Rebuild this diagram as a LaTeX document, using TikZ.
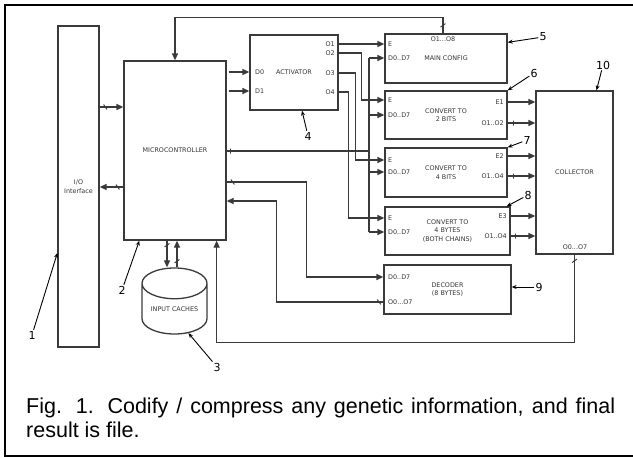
\documentclass[tikz,border=0pt]{standalone}
\usepackage{fontspec}
\setmainfont{DejaVu Sans}
\newfontfamily\capfont{Liberation Sans}
\usepackage{tikz}
\usetikzlibrary{arrows.meta, positioning, shapes.geometric, calc}
\definecolor{diagGray}{HTML}{3A3A3A}
\definecolor{diagText}{HTML}{333333}

\begin{document}
\begin{tikzpicture}[
    x=1pt, y=-1pt,
    box/.style={rectangle, draw=diagGray, line width=1.3pt, inner sep=0pt,
                font=\fontsize{6.4}{8.4}\selectfont\color{diagText}, align=center},
    port/.style={inner sep=0pt, font=\fontsize{6.4}{8.4}\selectfont\color{diagText}},
    num/.style={inner sep=1pt, font=\fontsize{11}{12}\selectfont},
    wire/.style={line width=1.3pt, diagGray},
    arr/.style={-{Triangle[length=7pt, width=6pt]}, line width=1.3pt, diagGray},
    ptr/.style={-{Stealth[length=5pt, width=4pt]}, line width=0.9pt},
    hbrk/.style={draw=diagGray, line width=1pt, inner sep=0pt,
                 minimum width=0pt, minimum height=6pt, rotate=35},
    vbrk/.style={draw=diagGray, line width=1pt, inner sep=0pt,
                 minimum width=6pt, minimum height=0pt, rotate=35},
    tick/.style={draw=diagGray, line width=1pt, inner sep=0pt,
                 minimum width=0pt, minimum height=5pt},
  ]
    \useasboundingbox (0,0) rectangle (633,458);
    \draw[line width=2.6pt] (5,5) rectangle (645,456);

    \node[box, minimum width=41pt, minimum height=321pt] (io) at (78.5,186.5) {I/O\\Interface};
    \node[box, minimum width=102pt, minimum height=179pt] (mcu) at (175,150.5) {MICROCONTROLLER};
    \node[box, minimum width=88pt, minimum height=75pt] (act) at (294,72.5) {ACTIVATOR};
    \node[box, minimum width=122pt, minimum height=49pt] (cfg) at (446,58.5) {MAIN CONFIG};
    \node[box, minimum width=122pt, minimum height=48pt] (cv2) at (446,115) {CONVERT TO\\2 BITS};
    \node[box, minimum width=122pt, minimum height=49pt] (cv4) at (446,172.5) {CONVERT TO\\4 BITS};
    \node[box, minimum width=125pt, minimum height=48pt] (cvb) at (447.5,231) {CONVERT TO\\4 BYTES\\(BOTH CHAINS)};
    \node[box, minimum width=127pt, minimum height=49pt] (dec) at (447.5,289.5) {DECODER\\(8 BYTES)};
    \node[box, minimum width=77pt, minimum height=163pt] (col) at (574.5,172.5) {COLLECTOR};
    \node[box, cylinder, shape border rotate=90, aspect=0.65,
          minimum width=65pt, minimum height=66pt] (cache) at (174.5,309) {INPUT CACHES};

    \node[port, anchor=west] (actD0) at (255,72) {D0};
    \node[port, anchor=west] (actD1) at (255,91) {D1};
    \node[port, anchor=east] (actO1) at (335,44) {O1};
    \node[port, anchor=east] (actO2) at (335,53) {O2};
    \node[port, anchor=east] (actO3) at (335,73) {O3};
    \node[port, anchor=east] (actO4) at (335,92) {O4};

    \node[port, anchor=west] (cfgE) at (388,44) {E};
    \node[port, anchor=west] (cfgD) at (388,58) {D0..D7};
    \node[port] (cfgO) at (443,39) {O1...O8};

    \node[port, anchor=west] (twoE) at (388,100) {E};
    \node[port, anchor=west] (twoD) at (388,115) {D0..D7};
    \node[port, anchor=east] (twoE1) at (504,102) {E1};
    \node[port, anchor=east] (twoO) at (504,123) {O1..O2};

    \node[port, anchor=west] (fourE) at (388,160) {E};
    \node[port, anchor=west] (fourD) at (388,172) {D0..D7};
    \node[port, anchor=east] (fourE2) at (504,156) {E2};
    \node[port, anchor=east] (fourO) at (504,176) {O1..O4};

    \node[port, anchor=west] (byteE) at (388,218) {E};
    \node[port, anchor=west] (byteD) at (388,232) {D0..D7};
    \node[port, anchor=east] (byteE3) at (507,216) {E3};
    \node[port, anchor=east] (byteO) at (507,236) {O1..O4};

    \node[port, anchor=west] (decD) at (388,277) {D0..D7};
    \node[port, anchor=west] (decO) at (388,302) {O0...O7};
    \node[port] (colO) at (575,247) {O0...O7};

    \coordinate (bus) at (369,151);

    \draw[arr] (io.east |- 0,107) -- node[hbrk, pos=0.24]{} (mcu.west |- 0,107);
    \draw[arr] (mcu.west |- 0,187) -- node[hbrk, pos=0.24]{} (io.east |- 0,187);

    \draw[arr, shorten <=2pt] (mcu.east |- actD0) -- (act.west |- actD0);
    \draw[arr, shorten <=2pt] (mcu.east |- actD1) -- (act.west |- actD1);

    \draw[arr] (act.east |- actO1) -- (cfg.west |- cfgE);
    \draw[arr] (act.east |- actO2) -- ++(23,0) |- (cv2.west |- twoE);
    \draw[arr] (act.east |- actO3) -- ++(17,0) |- (cv4.west |- fourE);
    \draw[arr] (act.east |- actO4) -- ++(10,0) |- (cvb.west |- byteE);

    \draw[wire] (mcu.east |- bus) -- node[tick, pos=0.03]{} (bus);
    \draw[wire] (bus |- cfgD) -- (bus |- byteD);
    \draw[arr] (bus |- cfgD) -- (cfg.west |- cfgD);
    \draw[arr] (bus |- twoD) -- (cv2.west |- twoD);
    \draw[arr] (bus |- fourD) -- (cv4.west |- fourD);
    \draw[arr] (bus |- byteD) -- (cvb.west |- byteD);

    \draw[arr] (mcu.east |- 0,182) -- node[hbrk, pos=0.075]{} ++(80,0) |- (dec.west |- decD);
    \draw[arr] (dec.west |- decO) -- node[hbrk, pos=0.04]{} ++(-107,0) |- (mcu.east |- 0,201);

    \draw[arr] (cfg.north -| cfgO) -- node[vbrk]{} ++(0,-16) -| (mcu.north);
    \draw[arr] (col.south) -- node[vbrk, pos=0.07]{} ++(0,88) -| ([xshift=-10pt]mcu.south east);

    \draw[arr] (mcu.south -| 167,0) -- node[vbrk, pos=0.17]{} (cache.north -| 167,0);
    \draw[arr] (cache.north -| 177,0) -- node[vbrk, pos=0.23]{} (mcu.south -| 177,0);

    \draw[arr] (cv2.east |- twoE1) -- (col.west |- twoE1);
    \draw[arr] (cv2.east |- twoO) -- node[tick, pos=0.2]{} (col.west |- twoO);
    \draw[arr] (cv4.east |- fourE2) -- (col.west |- fourE2);
    \draw[arr] (cv4.east |- fourO) -- node[tick, pos=0.2]{} (col.west |- fourO);
    \draw[arr] (cvb.east |- byteE3) -- (col.west |- byteE3);
    \draw[arr] (cvb.east |- byteO) -- node[tick, pos=0.2]{} (col.west |- byteO);

    \node[num] (n1) at (32,335) {1};
    \node[num] (n2) at (122,290) {2};
    \node[num] (n3) at (217,367) {3};
    \node[num] (n4) at (308,136) {4};
    \node[num] (n5) at (543,37) {5};
    \node[num] (n6) at (534,73) {6};
    \node[num] (n7) at (527,140) {7};
    \node[num] (n8) at (528,195) {8};
    \node[num] (n9) at (539,287) {9};
    \node[num] (n10) at (603,65) {10};

    \draw[ptr] (n1) -- (io.west |- 0,253);
    \draw[ptr] (n2) -- ([xshift=16pt]mcu.south west);
    \draw[ptr] (n3) -- (cache.-60);
    \draw[ptr] (n4) -- ([xshift=8pt]act.south);
    \draw[ptr] (n5) -- ([yshift=-9pt]cfg.north east);
    \draw[ptr] (n6) -- (cv2.north east);
    \draw[ptr] (n7) -- (cv4.north east);
    \draw[ptr] (n8) -- ([xshift=-4pt]cvb.north east);
    \draw[ptr] (n9) -- (dec.east |- n9);
    \draw[ptr] (n10) -- ([xshift=22pt]col.north);

    \node[anchor=base west, inner sep=0pt, text width=589pt, align=justify,
          font=\capfont\fontsize{21.5}{24}\selectfont] (caption) at (26,413)
          {Fig. 1. Codify / compress any genetic information, and final result is file.};
  \end{tikzpicture}
\end{document}
